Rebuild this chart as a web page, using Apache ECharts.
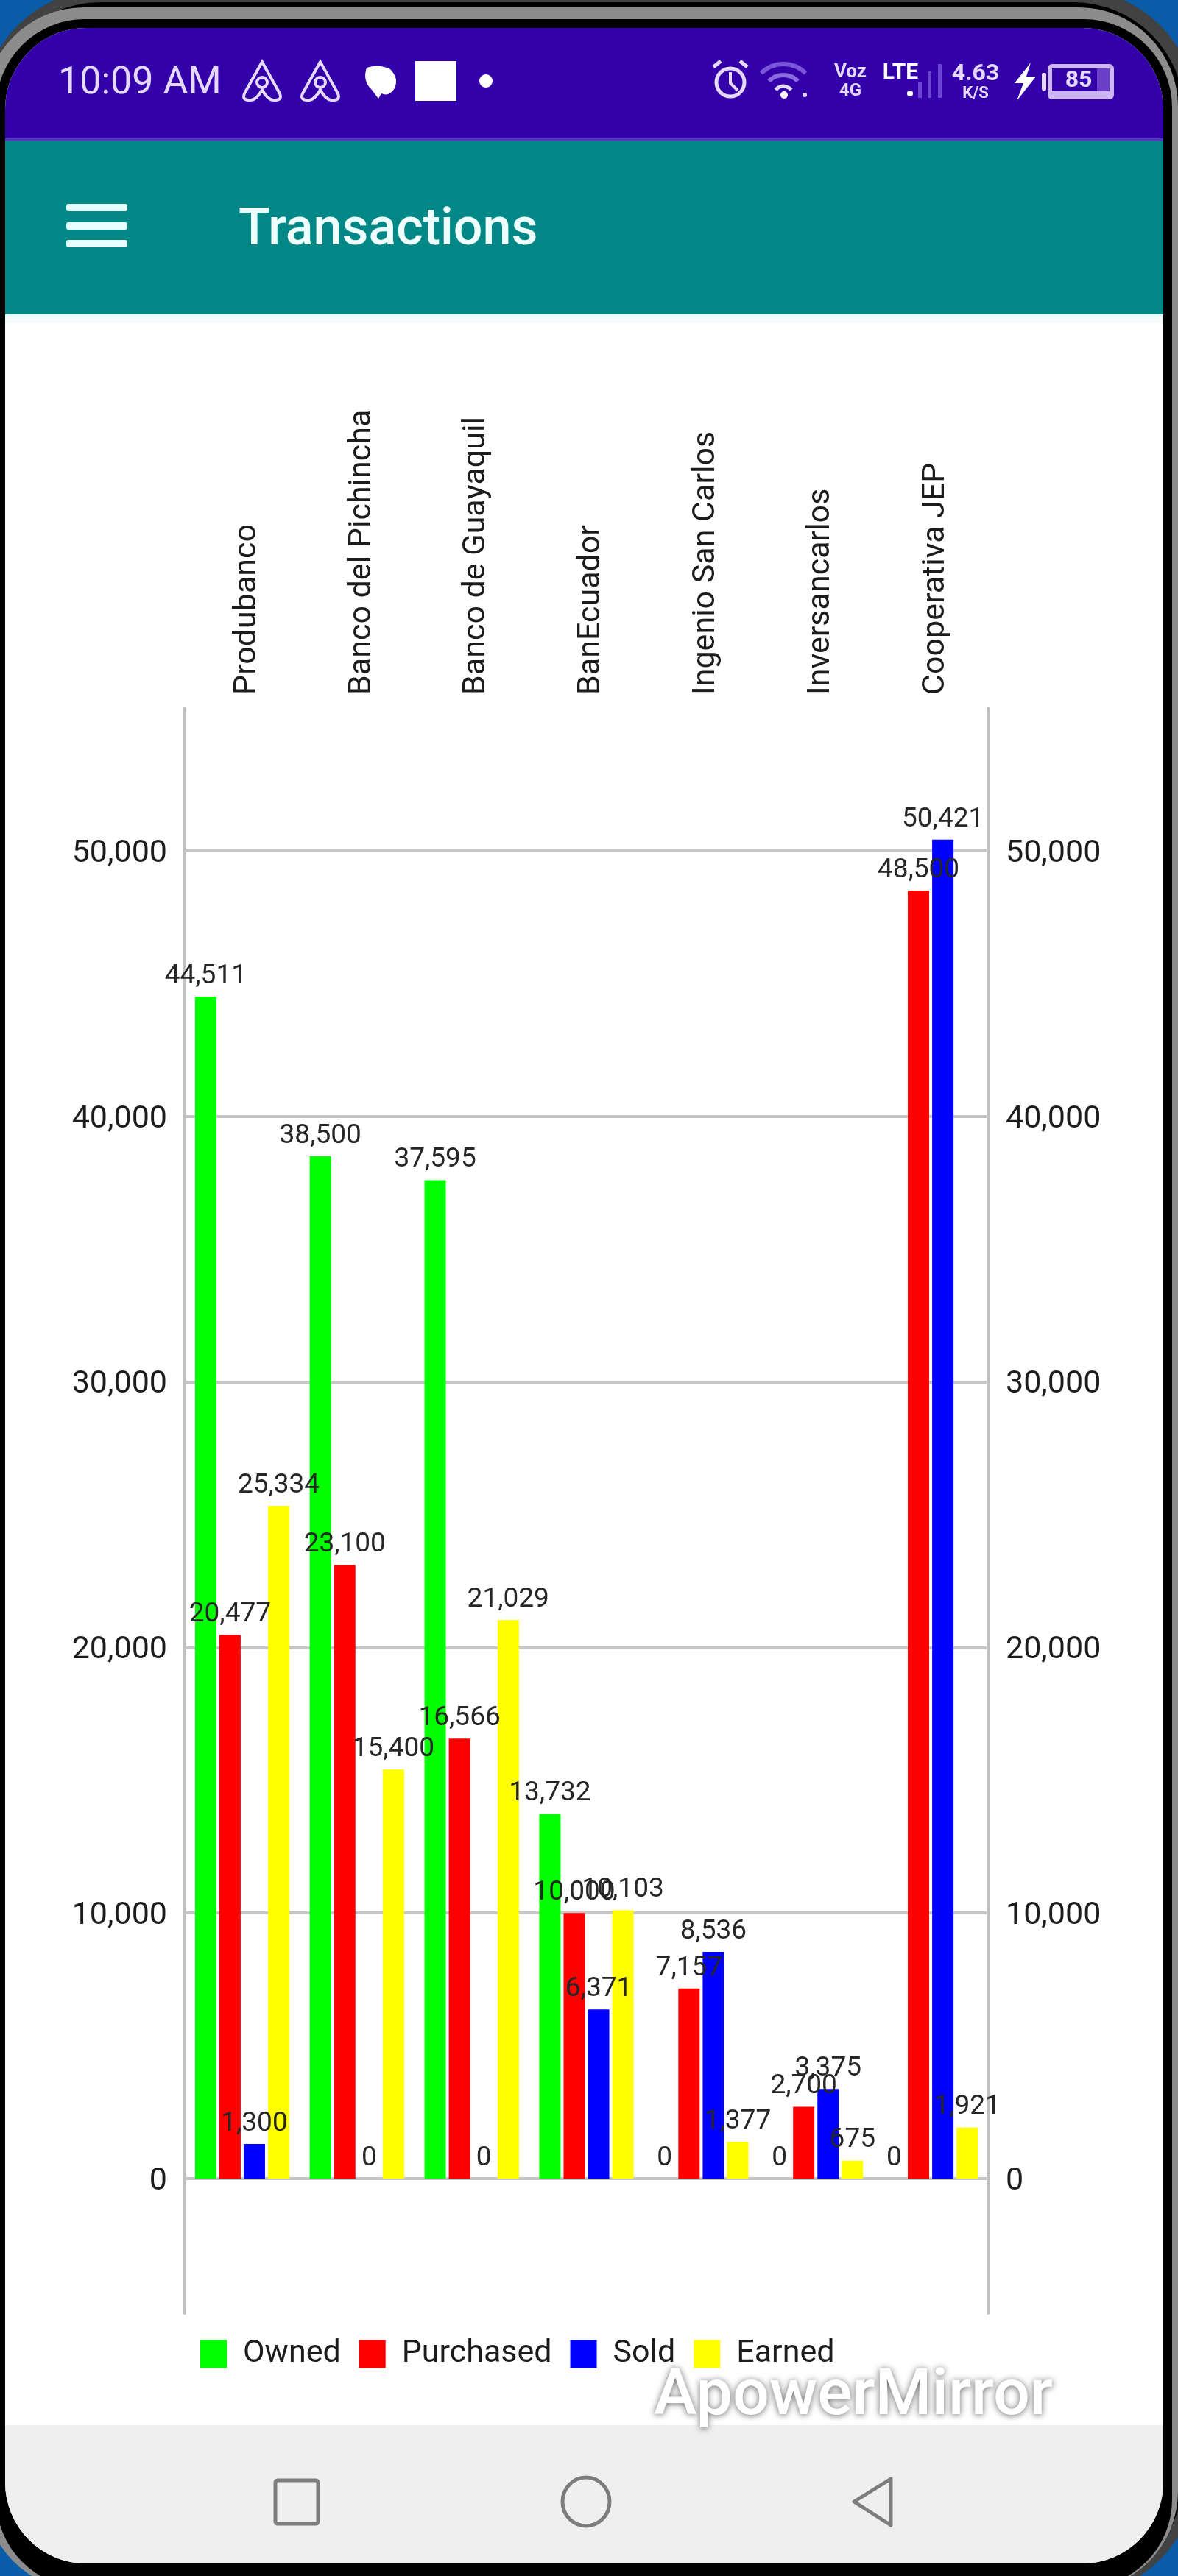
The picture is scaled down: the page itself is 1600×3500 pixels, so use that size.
<!DOCTYPE html>
<html><head><meta charset="utf-8">
<style>html,body{margin:0;padding:0;background:#fff}#c{width:1600px;height:3500px}</style>
<script src="https://cdn.jsdelivr.net/npm/echarts@6/dist/echarts.min.js"></script>
</head><body><div id="c"></div>
<script>
const categories = ['Produbanco','Banco del Pichincha','Banco de Guayaquil','BanEcuador','Ingenio San Carlos','Inversancarlos','Cooperativa JEP'];
const owned     = [44511,38500,37595,13732,0,0,0];
const purchased = [20477,23100,16566,10000,7157,2700,48500];
const sold      = [1300,0,0,6371,8536,3375,50421];
const earned    = [25334,15400,21029,10103,1377,675,1921];
const tickValues = [0,10000,20000,30000,40000,50000];
const legendNames = ['Owned','Purchased','Sold','Earned'];
const appTitle = 'Transactions';
const statusTime = '10:09 AM';
const watermark = 'ApowerMirror';

const FONT = 'Roboto';
const fmt = v => Number(v).toLocaleString('en-US');
const L = '#e6d9ff';
const bg = (type, props) => Object.assign({type, z:-10, silent:true}, props);
const rr = (x,y,w,h,r,fill,z) => bg('rect',{z:z||-10,shape:{x,y,width:w,height:h,r},style:{fill}});
const txt = (text,x,y,size,fill,weight,align) => bg('text',{z:-5,style:{text,x,y:y+size*0.08,fill,font:(weight||400)+' '+size+'px '+FONT,textAlign:align||'center',textVerticalAlign:'middle'}});
let pathCount = 0;
const pth = (d,style) => {
  const name = 'decorPath' + (pathCount++);
  echarts.graphic.registerShape(name, echarts.graphic.extendPath(d, {}));
  return bg(name,{z:-5,style});
};
const airbnb = cx => [
  pth(`M${cx} 84 L${cx-24} 127 Q${cx-28} 137 ${cx-15} 136 Q${cx-7} 135 ${cx} 122 Q${cx+7} 135 ${cx+15} 136 Q${cx+28} 137 ${cx+24} 127 Z`,{fill:'none',stroke:L,lineWidth:4}),
  bg('circle',{z:-5,shape:{cx,cy:112,r:7},style:{fill:'none',stroke:L,lineWidth:4}})
];

const decor = [
  rr(0,0,1600,3500,0,'#0a5ca8',-20),
  rr(-24,-14,1648,3540,165,'#424242',-19),
  rr(-14,3,1622,3510,150,'#000',-18),
  rr(-21,10,1621,3510,135,'#8c8c8c',-17),
  rr(-5,26,1597,3490,120,'#000',-16),
  rr(7,38,1573,3445,110,'#fff',-15),
  rr(7,38,1573,300,[110,110,0,0],'#3300aa',-14),
  rr(7,188,1573,4,0,'#4a3cb4',-13),
  rr(7,192,1573,235,0,'#018786',-13),
  rr(7,427,1573,12,0,'#f4fbfb',-13),
  rr(7,439,1573,2856,0,'#fff',-13),
  rr(7,3295,1573,188,[0,0,110,110],'#efefef',-13),
  rr(90,277,83,10,3,'#e8ffff',-5), rr(90,302,83,10,3,'#e8ffff',-5), rr(90,326,83,10,3,'#e8ffff',-5),
  txt(appTitle,324,309,70,'#eefffe',500,'left'),
  txt(statusTime,79,110,52,L,400,'left'),
  ...airbnb(356), ...airbnb(435),
  pth('M498 92 Q514 86 530 94 Q542 106 536 120 Q528 132 518 127 L514 134 L505 122 Q492 110 498 92 Z',{fill:'#fff'}),
  rr(564,83,56,54,0,'#fff',-5),
  bg('ellipse',{z:-5,shape:{cx:660,cy:110,rx:9,ry:9},style:{fill:'#fff'}}),
  bg('circle',{z:-5,shape:{cx:992,cy:112,r:19},style:{fill:'none',stroke:L,lineWidth:5}}),
  pth('M992 98 L992 113 L1002 123',{fill:'none',stroke:L,lineWidth:4}),
  pth('M969 91 L979 83 M1005 83 L1015 91',{fill:'none',stroke:L,lineWidth:5}),
  bg('arc',{z:-5,shape:{cx:1064,cy:130,r:43,startAngle:-2.35,endAngle:-0.79},style:{fill:'none',stroke:'#7a55d8',lineWidth:6}}),
  bg('arc',{z:-5,shape:{cx:1064,cy:130,r:28,startAngle:-2.35,endAngle:-0.79},style:{fill:'none',stroke:'#8c6be0',lineWidth:6}}),
  bg('arc',{z:-5,shape:{cx:1064,cy:130,r:13,startAngle:-2.5,endAngle:-0.64},style:{fill:'none',stroke:L,lineWidth:5}}),
  bg('circle',{z:-5,shape:{cx:1065,cy:129,r:5},style:{fill:'#fff'}}),
  bg('circle',{z:-5,shape:{cx:1093,cy:129,r:3},style:{fill:L}}),
  txt('Voz',1155,96,26,L,700),
  txt('4G',1155,122,24,L,700),
  txt('LTE',1223,97,30,'#fff',700),
  bg('circle',{z:-5,shape:{cx:1236,cy:127,r:4},style:{fill:'#fff'}}),
  rr(1247,112,5,21,0,'#6b45cf',-5), rr(1260,97,5,36,0,'#6b45cf',-5), rr(1274,87,5,46,0,'#6b45cf',-5),
  txt('4.63',1325,98,32,L,700),
  txt('K/S',1325,126,22,L,700),
  pth('M1400 85 L1378 113 L1390 113 L1381 137 L1407 104 L1394 104 Z',{fill:'#fff'}),
  rr(1415,99,6,24,2,L,-5),
  rr(1423,87,90,48,6,'#cdb6f5',-6),
  rr(1429,93,78,31,0,'#3300aa',-5),
  rr(1490,93,17,31,0,'#6a3fc8',-5),
  txt('85',1465,107,32,L,700),
  bg('rect',{z:-5,shape:{x:374,y:3370,width:58,height:59,r:3},style:{fill:'none',stroke:'#7d7d7d',lineWidth:5}}),
  bg('ellipse',{z:-5,shape:{cx:796,cy:3399,rx:32,ry:33},style:{fill:'none',stroke:'#7d7d7d',lineWidth:5}}),
  pth('M1210 3368 L1160 3399 L1210 3431 Z',{fill:'none',stroke:'#7d7d7d',lineWidth:5,lineJoin:'round'}),
  {type:'text',z:100,silent:true,style:{text:watermark,x:888,y:3258,fill:'#fff',font:'500 88px '+FONT,textVerticalAlign:'middle',textShadowColor:'rgba(0,0,0,0.6)',textShadowBlur:10,textShadowOffsetX:0,textShadowOffsetY:1}}
];

const yMin = -5072, yMax = 55377;
const yAxisBase = {
  type:'value', min:yMin, max:yMax,
  axisLine:{show:true,onZero:false,lineStyle:{color:'#c0c0c0',width:4}},
  axisTick:{show:false,customValues:tickValues},
  axisLabel:{
    customValues:tickValues,formatter:v=>`{a|${fmt(v)}}`,margin:24,
    rich:{a:{color:'#1c1c1c',fontFamily:FONT,fontSize:43,padding:[8,0,0,0]}}
  }
};
const mk = (name,data,color) => ({
  name,type:'bar',data,barWidth:29,barGap:'14%',
  itemStyle:{color},
  label:{show:true,position:'top',distance:9,formatter:p=>fmt(p.value),color:'#262626',fontFamily:FONT,fontSize:37}
});

const chart = echarts.init(document.getElementById('c'),null,{renderer:'canvas'});
chart.setOption({
  animation:false,
  backgroundColor:'transparent',
  graphic:{elements:decor},
  grid:{left:251,right:258,top:962,bottom:357},
  legend:{
    left:272,top:3177,padding:0,itemWidth:36,itemHeight:38,itemGap:25,icon:'rect',
    data:legendNames,
    textStyle:{fontFamily:FONT,fontSize:43,color:'#1c1c1c',padding:[0,0,0,17]}
  },
  xAxis:{
    type:'category',data:categories,position:'top',
    axisLine:{show:false},axisTick:{show:false},
    axisLabel:{
      interval:0,rotate:90,margin:18,formatter:v=>`{a|${v}}`,
      rich:{a:{color:'#1c1c1c',fontFamily:FONT,fontSize:43,padding:[14,0,0,0]}}
    }
  },
  yAxis:[
    Object.assign({},yAxisBase,{position:'left',splitLine:{show:true,lineStyle:{color:'#c6c6c6',width:4}}}),
    Object.assign({},yAxisBase,{position:'right',splitLine:{show:false}})
  ],
  series:[mk(legendNames[0],owned,'#00ff00'),mk(legendNames[1],purchased,'#ff0000'),mk(legendNames[2],sold,'#0000ff'),mk(legendNames[3],earned,'#ffff00')]
});
</script></body></html>
